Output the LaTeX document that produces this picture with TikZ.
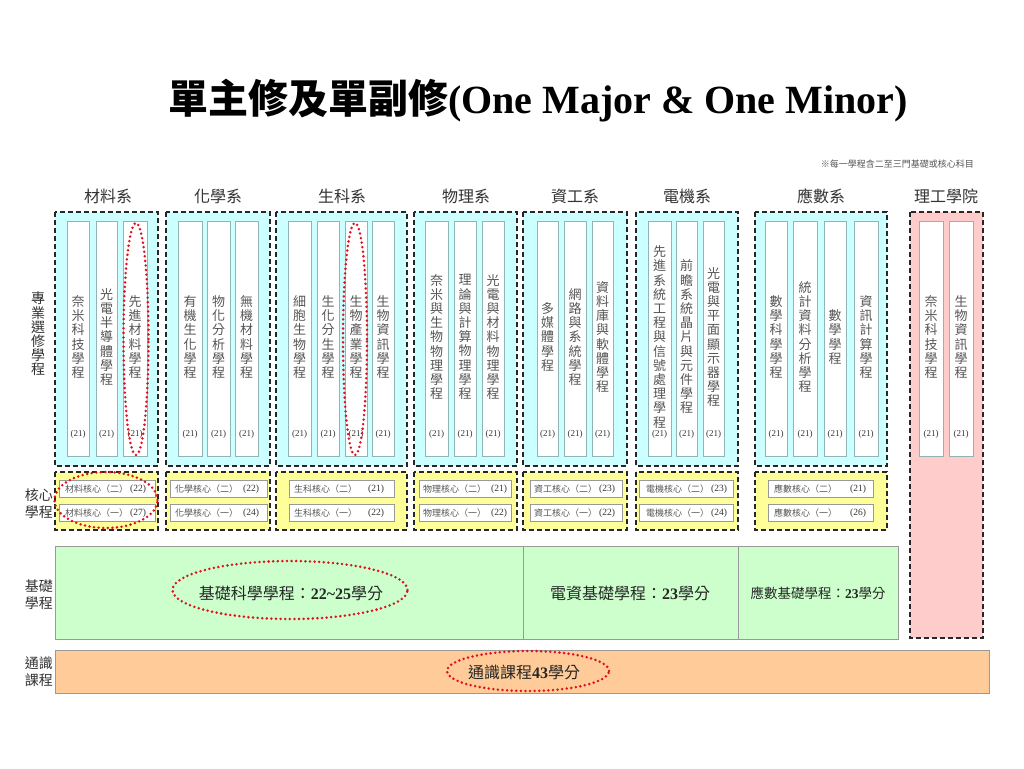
\documentclass[tikz,border=0pt]{standalone}
\usepackage{fontspec}
\setmainfont{Noto Sans CJK TC}
\newfontfamily\tm{Liberation Serif}
\usetikzlibrary{shapes.geometric}
\definecolor{cyanfill}{HTML}{CCFFFF}
\definecolor{yelfill}{HTML}{FFFF99}
\definecolor{grnfill}{HTML}{CCFFCC}
\definecolor{orgfill}{HTML}{FFCC99}
\definecolor{pinkfill}{HTML}{FFCCCC}
\definecolor{colline}{HTML}{8FB5B5}
\definecolor{coltxt}{HTML}{555555}
\definecolor{redot}{HTML}{E0101E}
\makeatletter
\newcommand\vstack[1]{\vbox{\baselineskip=14.2pt\lineskiplimit=-20pt\expandafter\vstackA#1\vstackEnd}}
\def\vstackA#1#2\vstackEnd{\hbox to 14pt{\hss#1\hss}\ifx\relax#2\relax\else\vstackA#2\vstackEnd\fi}
\makeatother
\begin{document}
\begin{tikzpicture}[x=1pt,y=-1pt,
  deptbox/.style={draw=black!85, line width=1.4pt, dash pattern=on 5pt off 3pt},
  colbox/.style={draw=colline, fill=white, line width=0.8pt},
  coltext/.style={inner sep=0pt, text=coltxt, font=\fontsize{13}{14.2}\selectfont},
  numtext/.style={inner sep=0pt, text=black!80, font=\tm\fontsize{9}{10}\selectfont},
  corebox/.style={draw=black!40, fill=white, line width=0.8pt},
  corelab/.style={anchor=west, inner sep=0pt, text=coltxt, font=\fontsize{9}{10}\selectfont},
  corenum/.style={inner sep=0pt, text=black!80, font=\tm\fontsize{9.5}{10}\selectfont},
  deptlab/.style={inner sep=0pt, text=black!80, font=\fontsize{16}{18}\selectfont},
  rowlab/.style={inner sep=0pt, anchor=east, align=right, text=black!80, font=\fontsize{14}{17}\selectfont},
  bandtxt/.style={inner sep=0pt, text=black!85},
  redoval/.style={ellipse, draw=redot, line width=2.8pt, dash pattern=on 0pt off 4.6pt, line cap=round, inner sep=0pt},
]
\useasboundingbox (0,0) rectangle (1024,768);
\fill[white] (0,0) rectangle (1024,768);

% title
\node[inner sep=0pt] (title) at (538,101) {\fontsize{40}{44}\selectfont\bfseries 單主修及單副修{\tm\bfseries (One Major \& One Minor)}};
\node[inner sep=0pt, anchor=east, text=coltxt] (note) at (974,164) {\fontsize{9}{10}\selectfont ※每一學程含二至三門基礎或核心科目};

% department labels
\node[deptlab] (d1) at (108,196) {材料系};
\node[deptlab] (d2) at (218,196) {化學系};
\node[deptlab] (d3) at (342,196) {生科系};
\node[deptlab] (d4) at (466,196) {物理系};
\node[deptlab] (d5) at (575,196) {資工系};
\node[deptlab] (d6) at (687,196) {電機系};
\node[deptlab] (d7) at (821,196) {應數系};
\node[deptlab] (d8) at (946,196) {理工學院};

% row labels
\node[inner sep=0pt, text=black!80, font=\fontsize{14}{14}\selectfont] (r1) at (38,334) {\vstack{專業選修學程}};
\node[rowlab] (r2) at (53,504) {核心\\學程};
\node[rowlab] (r3) at (53,595) {基礎\\學程};
\node[rowlab] (r4) at (53,672) {通識\\課程};

% department boxes
\foreach \xl/\xr in {55/158,166/270,276/407,414/517,523/627,636/738,755/887}{
  \draw[deptbox, fill=cyanfill] (\xl,212) rectangle (\xr,466);
  \draw[deptbox, fill=yelfill] (\xl,472) rectangle (\xr,530);
}
\draw[deptbox, fill=pinkfill] (910,212) rectangle (983,638);

% program columns
\foreach \xl/\xr/\t [count=\i] in {
  67/89/奈米科技學程, 96/117/光電半導體學程, 123/147/先進材料學程,
  178/202/有機生化學程, 207/230/物化分析學程, 235/258/無機材料學程,
  288/311/細胞生物學程, 317/339/生化分生學程, 345/367/生物產業學程, 372/394/生物資訊學程,
  425/448/奈米與生物物理學程, 454/476/理論與計算物理學程, 482/504/光電與材料物理學程,
  537/558/多媒體學程, 564/586/網路與系統學程, 592/613/資料庫與軟體學程,
  648/671/先進系統工程與信號處理學程, 676/697/前瞻系統晶片與元件學程, 703/724/光電與平面顯示器學程,
  765/787/數學科學學程, 793/817/統計資料分析學程, 824/846/數學學程, 854/878/資訊計算學程,
  919/943/奈米科技學程, 949/973/生物資訊學程}{
  \draw[colbox] (\xl,221) rectangle (\xr,456);
  \node[coltext] (col\i) at ({(\xl+\xr)/2},337) {\vstack{\t}};
  \node[numtext] (num\i) at ({(\xl+\xr)/2},434) {(21)};
}

% core boxes
\foreach \xl/\xr/\tx/\nx/\la/\na/\lb/\nb [count=\i] in {
  59/155/65/138/材料核心（二）/(22)/材料核心（一）/(27),
  170/267/175/251/化學核心（二）/(22)/化學核心（一）/(24),
  289/394/294/376/生科核心（二）/(21)/生科核心（一）/(22),
  419/511/423/499/物理核心（二）/(21)/物理核心（一）/(22),
  530/622/534/607/資工核心（二）/(23)/資工核心（一）/(22),
  639/733/646/719/電機核心（二）/(23)/電機核心（一）/(24),
  768/873/774/858/應數核心（二）/(21)/應數核心（一）/(26)}{
  \draw[corebox] (\xl,480) rectangle (\xr,497);
  \draw[corebox] (\xl,504) rectangle (\xr,521);
  \node[corelab] (ca\i) at (\tx,489) {\la};
  \node[corelab] (cb\i) at (\tx,513) {\lb};
  \node[corenum] (na\i) at (\nx,489) {\na};
  \node[corenum] (nb\i) at (\nx,513) {\nb};
}

% foundation band
\draw[draw=black!40, fill=grnfill, line width=0.8pt] (55,546) rectangle (523,639);
\draw[draw=black!40, fill=grnfill, line width=0.8pt] (523,546) rectangle (738,639);
\draw[draw=black!40, fill=grnfill, line width=0.8pt] (738,546) rectangle (898,639);
\node[bandtxt, font=\fontsize{16}{18}\selectfont] (f1) at (291,593) {基礎科學學程：{\tm\bfseries 22\textasciitilde25}學分};
\node[bandtxt, font=\fontsize{16}{18}\selectfont] (f2) at (630,593) {電資基礎學程：{\tm\bfseries 23}學分};
\node[bandtxt, font=\fontsize{13.5}{15}\selectfont] (f3) at (818,593) {應數基礎學程：{\tm\bfseries 23}學分};

% general education band
\draw[draw=black!40, fill=orgfill, line width=0.8pt] (55,650) rectangle (989,693);
\node[bandtxt, font=\fontsize{16}{18}\selectfont] (g1) at (524,672) {通識課程{\tm\bfseries 43}學分};

% red dotted ovals
\node[redoval, minimum width=25pt, minimum height=232pt] (o1) at (136,339) {};
\node[redoval, minimum width=24pt, minimum height=232pt] (o2) at (355,339) {};
\node[redoval, minimum width=103pt, minimum height=56pt] (o3) at (106,500) {};
\node[redoval, minimum width=235pt, minimum height=58pt] (o4) at (290,590) {};
\node[redoval, minimum width=162pt, minimum height=40pt] (o5) at (528,671) {};
\end{tikzpicture}
\end{document}
